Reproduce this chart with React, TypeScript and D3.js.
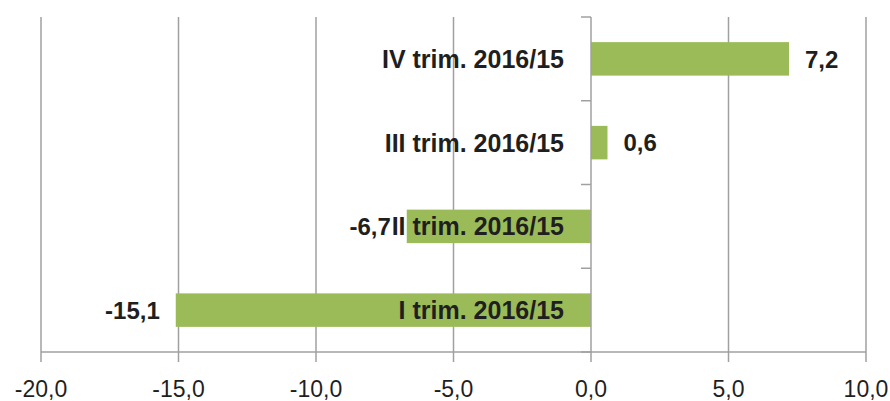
import React from 'react'
import * as d3 from 'd3'

const categories = ['IV trim. 2016/15', 'III trim. 2016/15', 'II trim. 2016/15', 'I trim. 2016/15']
const values = [7.2, 0.6, -6.7, -15.1]
const xTicks = [-20, -15, -10, -5, 0, 5, 10]

const W = 890
const H = 401
const fmt = (v: number) => d3.format('.1f')(v).replace('.', ',').replace('−', '-')
const font = '"Liberation Sans Narrow", "Liberation Sans", Arial, sans-serif'

export default function App() {
  const x = d3.scaleLinear().domain([-20, 10]).range([41, 866])
  const y = d3.scaleBand<string>().domain(categories).range([17, 352]).paddingInner(0.6).paddingOuter(0.3)
  const x0 = x(0)
  const step = y.step()
  const top = 17, bottom = 352
  // category boundaries for the tick marks on the zero axis
  const bounds = d3.range(categories.length + 1).map(i => top + i * step)

  return (
    <svg width={W} height={H} style={{ position: 'absolute', left: 0, top: 0, background: '#fff' }}>
      {/* gridlines */}
      {xTicks.filter(t => t !== 0).map(t => (
        <line key={t} x1={x(t)} x2={x(t)} y1={top} y2={bottom} stroke="#a0a0a0" strokeWidth={1.5} />
      ))}

      {/* bars */}
      {values.map((v, i) => (
        <rect key={i} x={x(Math.min(0, v))} width={Math.abs(x(v) - x0)} y={y(categories[i])} height={y.bandwidth()} fill="#9bbb59" />
      ))}

      {/* zero axis */}
      <line x1={x0} x2={x0} y1={top} y2={bottom} stroke="#a0a0a0" strokeWidth={1.5} />
      {bounds.map((b, i) => (
        <line key={i} x1={x0 - 10} x2={x0} y1={b} y2={b} stroke="#a0a0a0" strokeWidth={1.5} />
      ))}

      {/* horizontal axis */}
      <line x1={x(-20)} x2={x(10)} y1={bottom} y2={bottom} stroke="#a0a0a0" strokeWidth={1.5} />
      {xTicks.map(t => (
        <g key={t}>
          <line x1={x(t)} x2={x(t)} y1={bottom} y2={bottom + 10} stroke="#a0a0a0" strokeWidth={1.5} />
          <text x={x(t)} y={397} textAnchor="middle" fontFamily={font} fontSize={23} fill="#1f1f1f">{fmt(t)}</text>
        </g>
      ))}

      {/* category labels */}
      {categories.map(c => (
        <text key={c} x={x0 - 27} y={(y(c) ?? 0) + y.bandwidth() / 2} dy="0.36em" textAnchor="end"
          fontFamily={font} fontWeight="bold" fontSize={25} fill="#1f1f1f">{c}</text>
      ))}

      {/* value labels */}
      {values.map((v, i) => (
        <text key={i} x={v >= 0 ? x(v) + 16 : x(v) - 16} y={(y(categories[i]) ?? 0) + y.bandwidth() / 2} dy="0.36em"
          textAnchor={v >= 0 ? 'start' : 'end'} fontFamily={font} fontWeight="bold" fontSize={24} fill="#1f1f1f">{fmt(v)}</text>
      ))}
    </svg>
  )
}
